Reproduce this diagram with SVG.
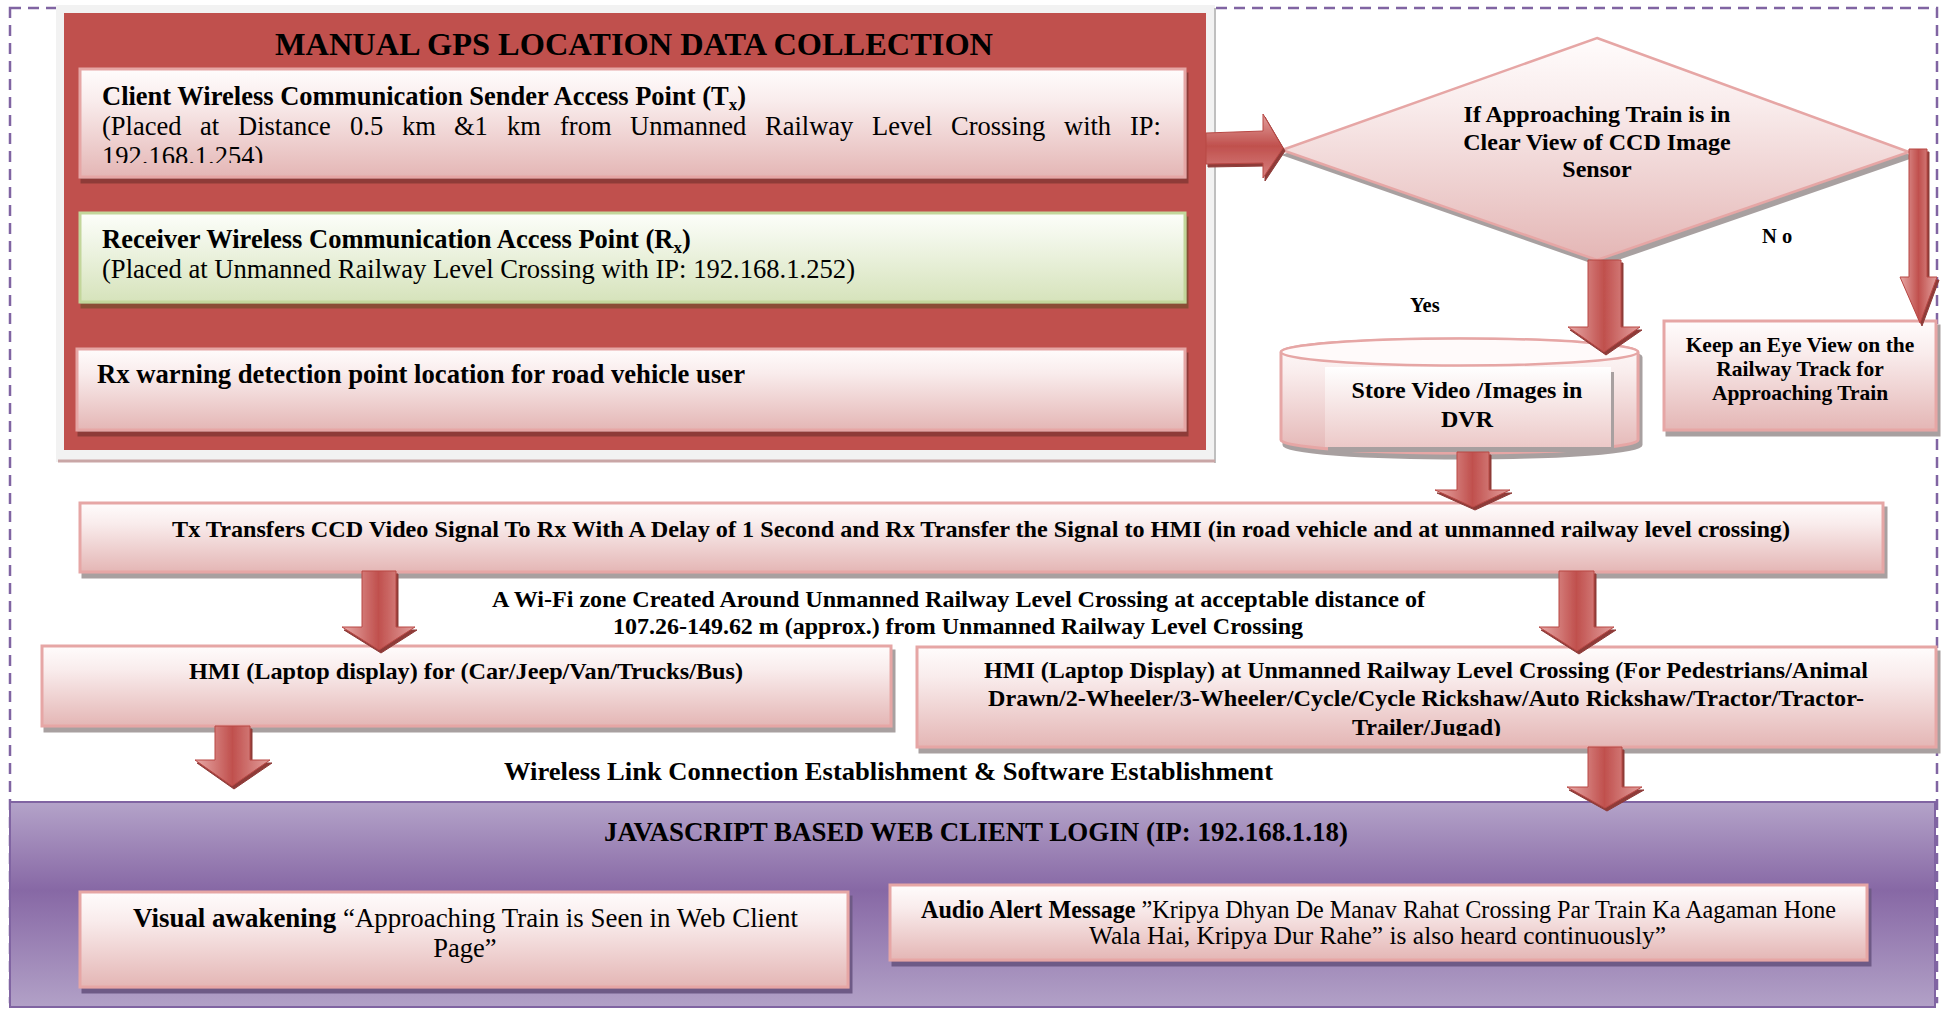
<svg xmlns="http://www.w3.org/2000/svg" width="1941" height="1009" viewBox="0 0 1941 1009">
<style>
.t{font-family:"Liberation Serif","Times New Roman",serif;fill:#000}
.b{font-weight:bold}
.pink{fill:url(#gPink);stroke:#e6a6a5;stroke-width:3}
.green{fill:url(#gGreen);stroke:#c3d69b;stroke-width:3}
.arrV{fill:url(#gArrV);stroke:#b84845;stroke-width:1;filter:url(#shArrow)}
.arrH{fill:url(#gArrH);stroke:#b84845;stroke-width:1;filter:url(#shArrow)}
</style>
<defs>
<linearGradient id="gPink" x1="0" y1="0" x2="0" y2="1">
<stop offset="0" stop-color="#fffcfc"/><stop offset="0.3" stop-color="#f9ecec"/><stop offset="1" stop-color="#e4b6b5"/>
</linearGradient>
<linearGradient id="gGreen" x1="0" y1="0" x2="0" y2="1">
<stop offset="0" stop-color="#fdfefa"/><stop offset="0.3" stop-color="#f1f6e8"/><stop offset="1" stop-color="#d6e3bb"/>
</linearGradient>
<linearGradient id="gInner" x1="0" y1="0" x2="0" y2="1">
<stop offset="0" stop-color="#ffffff"/><stop offset="1" stop-color="#ecc9c8"/>
</linearGradient>
<linearGradient id="gArrV" x1="0" y1="0" x2="1" y2="0">
<stop offset="0" stop-color="#e8aaa8"/><stop offset="0.5" stop-color="#c0504d"/><stop offset="1" stop-color="#e3a09e"/>
</linearGradient>
<linearGradient id="gArrH" x1="0" y1="0" x2="0" y2="1">
<stop offset="0" stop-color="#e3a09e"/><stop offset="0.5" stop-color="#c0504d"/><stop offset="1" stop-color="#d7817f"/>
</linearGradient>
<linearGradient id="gPurple" x1="0" y1="0" x2="0" y2="1">
<stop offset="0" stop-color="#b4a3c9"/><stop offset="0.43" stop-color="#8768a5"/><stop offset="1" stop-color="#b2a1c7"/>
</linearGradient>
<filter id="shRed" x="-5%" y="-20%" width="110%" height="140%"><feDropShadow dx="2" dy="5" stdDeviation="0.5" flood-color="#8e3b39"/></filter>
<filter id="shGreen" x="-5%" y="-20%" width="110%" height="140%"><feDropShadow dx="2" dy="5" stdDeviation="0.5" flood-color="#8a4d36"/></filter>
<filter id="shGray" x="-5%" y="-20%" width="110%" height="140%"><feDropShadow dx="3" dy="5" stdDeviation="0.5" flood-color="#a8a0a0"/></filter>
<filter id="shPurple" x="-5%" y="-20%" width="110%" height="140%"><feDropShadow dx="3" dy="5" stdDeviation="0.5" flood-color="#6e5a86"/></filter>
<filter id="shArrow" x="-30%" y="-20%" width="160%" height="140%"><feDropShadow dx="2" dy="3" stdDeviation="0.5" flood-color="#8e3b39"/></filter>
<clipPath id="clipTx"><rect x="80" y="69" width="1105" height="94"/></clipPath>
<clipPath id="clipHmi"><rect x="917" y="647" width="1019" height="89"/></clipPath>
</defs>

<rect x="0" y="0" width="1941" height="1009" fill="#ffffff"/>
<rect x="10" y="8" width="1927" height="994" fill="none" stroke="#8064a2" stroke-width="2.5" stroke-dasharray="11 7"/>

<g id="gps-panel">
<rect x="56" y="5" width="1159" height="457" fill="#f2f2f2"/>
<line x1="1215" y1="8" x2="1215" y2="463" stroke="#bfbfbf" stroke-width="2"/>
<line x1="58" y1="461" x2="1215" y2="461" stroke="#c9a6a6" stroke-width="3"/>
<rect x="64" y="13" width="1142" height="437" fill="#c0504d"/>
<text class="t b" x="275" y="55" font-size="31" textLength="718" lengthAdjust="spacingAndGlyphs">MANUAL GPS LOCATION DATA COLLECTION</text>
</g>

<g id="tx-access-point">
<rect class="pink" x="80" y="69" width="1105" height="108" filter="url(#shRed)"/>
<text class="t b" x="102" y="105" font-size="26.5">Client Wireless Communication Sender Access Point (T<tspan font-size="17" dy="5">x</tspan><tspan dy="-5">)</tspan></text>
<text class="t" y="135" font-size="26.5"><tspan x="102">(Placed</tspan><tspan x="200">at</tspan><tspan x="238">Distance</tspan><tspan x="350">0.5</tspan><tspan x="402">km</tspan><tspan x="454">&amp;1</tspan><tspan x="507">km</tspan><tspan x="560">from</tspan><tspan x="630">Unmanned</tspan><tspan x="765">Railway</tspan><tspan x="872">Level</tspan><tspan x="951">Crossing</tspan><tspan x="1064">with</tspan><tspan x="1130">IP:</tspan></text>
<text class="t" x="102" y="165" font-size="26.5" clip-path="url(#clipTx)">192.168.1.254)</text>
</g>

<g id="rx-access-point">
<rect class="green" x="80" y="213" width="1105" height="89" filter="url(#shGreen)"/>
<text class="t b" x="102" y="248" font-size="26.5">Receiver Wireless Communication Access Point (R<tspan font-size="17" dy="5">x</tspan><tspan dy="-5">)</tspan></text>
<text class="t" x="102" y="278" font-size="26.5" textLength="753" lengthAdjust="spacingAndGlyphs">(Placed at Unmanned Railway Level Crossing with IP: 192.168.1.252)</text>
</g>

<g id="rx-warning-point">
<rect class="pink" x="77" y="349" width="1108" height="81" filter="url(#shRed)"/>
<text class="t b" x="97" y="383" font-size="26.5" textLength="648" lengthAdjust="spacingAndGlyphs">Rx warning detection point location for road vehicle user</text>
</g>

<g id="decision">
<polygon points="1597,38 1909,152 1597,260 1282,150" fill="url(#gPink)" stroke="#e6a6a5" stroke-width="2.5" filter="url(#shGray)"/>
<text class="t b" font-size="24" text-anchor="middle"><tspan x="1597" y="122">If Approaching Train is in</tspan><tspan x="1597" y="150">Clear View of CCD Image</tspan><tspan x="1597" y="177">Sensor</tspan></text>
</g>

<g id="store-dvr">
<path d="M1281,352 V440 A178.5,13 0 0 0 1638,440 V352 A178.5,13 0 0 0 1281,352 Z" class="pink" filter="url(#shGray)"/>
<ellipse cx="1459.5" cy="352" rx="178.5" ry="13.5" fill="#fffafa" stroke="#e6a6a5" stroke-width="2.5"/>
<rect x="1325" y="367" width="286" height="80" fill="url(#gInner)" filter="url(#shGray)"/>
<text class="t b" font-size="24" text-anchor="middle"><tspan x="1467" y="398">Store Video /Images in</tspan><tspan x="1467" y="427">DVR</tspan></text>
</g>

<g id="keep-eye">
<rect class="pink" x="1664" y="321" width="272" height="109" filter="url(#shGray)"/>
<text class="t b" font-size="21.5" text-anchor="middle"><tspan x="1800" y="352">Keep an Eye View on the</tspan><tspan x="1800" y="376">Railway Track for</tspan><tspan x="1800" y="400">Approaching Train</tspan></text>
</g>

<g id="tx-transfer">
<rect class="pink" x="80" y="503" width="1803" height="69" filter="url(#shGray)"/>
<text class="t b" x="172" y="537" font-size="24" textLength="1618" lengthAdjust="spacingAndGlyphs">Tx Transfers CCD Video Signal To Rx With A Delay of 1 Second and Rx Transfer the Signal to HMI (in road vehicle and at unmanned railway level crossing)</text>
</g>

<g id="wifi-zone">
<text class="t b" x="492" y="607" font-size="24" textLength="933" lengthAdjust="spacingAndGlyphs">A Wi-Fi zone Created Around Unmanned Railway Level Crossing at acceptable distance of</text>
<text class="t b" x="613" y="634" font-size="24" textLength="690" lengthAdjust="spacingAndGlyphs">107.26-149.62 m (approx.) from Unmanned Railway Level Crossing</text>
</g>

<g id="hmi-vehicle">
<rect class="pink" x="42" y="646" width="849" height="80" filter="url(#shGray)"/>
<text class="t b" x="189" y="679" font-size="24" textLength="554" lengthAdjust="spacingAndGlyphs">HMI (Laptop display) for (Car/Jeep/Van/Trucks/Bus)</text>
</g>

<g id="hmi-crossing">
<rect class="pink" x="917" y="647" width="1019" height="100" filter="url(#shGray)"/>
<text class="t b" x="984" y="678" font-size="24" textLength="884" lengthAdjust="spacingAndGlyphs">HMI (Laptop Display) at Unmanned Railway Level Crossing (For Pedestrians/Animal</text>
<text class="t b" x="988" y="706" font-size="24" textLength="876" lengthAdjust="spacingAndGlyphs">Drawn/2-Wheeler/3-Wheeler/Cycle/Cycle Rickshaw/Auto Rickshaw/Tractor/Tractor-</text>
<text class="t b" x="1352" y="735" font-size="24" textLength="149" lengthAdjust="spacingAndGlyphs" clip-path="url(#clipHmi)">Trailer/Jugad)</text>
</g>

<g id="wireless-link">
<text class="t b" x="504" y="780" font-size="25" textLength="769" lengthAdjust="spacingAndGlyphs">Wireless Link Connection Establishment &amp; Software Establishment</text>
</g>

<g id="web-client">
<rect x="10" y="802" width="1925" height="205" fill="url(#gPurple)" stroke="#8064a2" stroke-width="2"/>
<text class="t b" x="604" y="841" font-size="27" textLength="744" lengthAdjust="spacingAndGlyphs">JAVASCRIPT BASED WEB CLIENT LOGIN (IP: 192.168.1.18)</text>
</g>

<g id="visual-alert">
<rect class="pink" x="80" y="892" width="768" height="95" filter="url(#shPurple)"/>
<text class="t" x="133" y="927" font-size="26.5" textLength="665" lengthAdjust="spacingAndGlyphs"><tspan class="b">Visual awakening</tspan> “Approaching Train is Seen in Web Client</text>
<text class="t" x="465" y="957" font-size="26.5" text-anchor="middle">Page”</text>
</g>

<g id="audio-alert">
<rect class="pink" x="890" y="885" width="977" height="75" filter="url(#shPurple)"/>
<text class="t" x="921" y="918" font-size="24.5" textLength="915" lengthAdjust="spacingAndGlyphs"><tspan class="b">Audio Alert Message</tspan> ”Kripya Dhyan De Manav Rahat Crossing Par Train Ka Aagaman Hone</text>
<text class="t" x="1089" y="944" font-size="24.5" textLength="577" lengthAdjust="spacingAndGlyphs">Wala Hai, Kripya Dur Rahe” is also heard continuously”</text>
</g>

<g id="connectors">
<path class="arrH" d="M1206,133 L1263,131 L1263,114 L1283,148 L1263,178 L1263,163 L1206,164 Z"/>
<path class="arrV" d="M1588,260 H1621 V327 H1640 L1604,352 L1568,327 H1588 Z"/>
<path class="arrV" d="M1909,149 H1927 V277 H1937 L1920,323 L1900,277 H1909 Z"/>
<path class="arrV" d="M1457,452 H1489 V490 H1510 L1473,507 L1435,490 H1457 Z"/>
<path class="arrV" d="M362,571 H396 V627 H415 L379,650 L342,627 H362 Z"/>
<path class="arrV" d="M1559,571 H1594 V627 H1614 L1577,651 L1539,627 H1559 Z"/>
<path class="arrV" d="M215,726 H250 V760 H270 L232,786 L195,760 H215 Z"/>
<path class="arrV" d="M1588,747 H1622 V787 H1642 L1605,808 L1567,787 H1588 Z"/>
<text class="t b" x="1410" y="312" font-size="20.5">Yes</text>
<text class="t b" x="1762" y="243" font-size="20.5">N o</text>
</g>
</svg>
